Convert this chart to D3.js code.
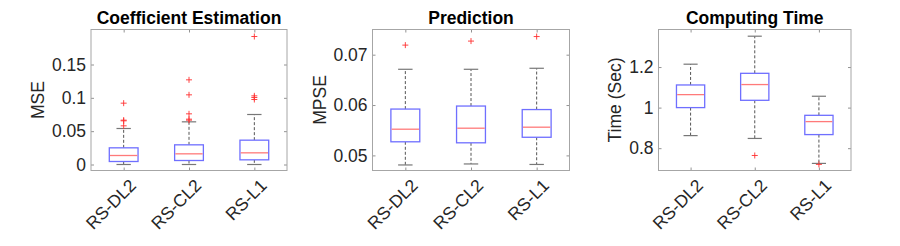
<!DOCTYPE html>
<html>
<head>
<meta charset="utf-8">
<script src="https://cdn.jsdelivr.net/npm/d3@7"></script>
<style>
  body { margin: 0; background: #fff; }
  svg { display: block; font-family: "Liberation Sans", Arial, Helvetica, sans-serif; }
</style>
</head>
<body>
<script>
const width = 900;
const height = 246;

// methods compared
const methods = ["RS-DL2", "RS-CL2", "RS-L1"];

// panel titles and y labels
const titles = ["Coefficient Estimation", "Prediction", "Computing Time"];
const yLabels = ["MSE", "MPSE", "Time (Sec)"];

// box stats per panel, one entry per method
const mseQ1 = [0.0045, 0.006, 0.007];
const mseMed = [0.0135, 0.016, 0.0175];
const mseQ3 = [0.025, 0.0295, 0.0365];
const mseLo = [0, 0, 0];
const mseHi = [0.054, 0.064, 0.075];
const mseOut = [[0.092, 0.0665, 0.0655, 0.058], [0.127, 0.1045, 0.076, 0.068, 0.0665], [0.192, 0.103, 0.1005, 0.0975]];

const mpseQ1 = [0.0527, 0.0525, 0.0536];
const mpseMed = [0.0552, 0.0554, 0.0556];
const mpseQ3 = [0.0592, 0.0598, 0.0591];
const mpseLo = [0.0481, 0.0483, 0.0482];
const mpseHi = [0.0671, 0.0671, 0.0673];
const mpseOut = [[0.0719], [0.0727], [0.0736]];

const timeQ1 = [1.0, 1.036, 0.867];
const timeMed = [1.064, 1.1136, 0.931];
const timeQ3 = [1.1116, 1.169, 0.962];
const timeLo = [0.862, 0.848, 0.725];
const timeHi = [1.214, 1.352, 1.056];
const timeOut = [[], [0.764], [0.720]];

// tick values and y limits
const mseTicks = [0, 0.05, 0.1, 0.15];
const mpseTicks = [0.05, 0.06, 0.07];
const timeTicks = [0.8, 1, 1.2];
const mseLim = [-0.009, 0.2025];
const mpseLim = [0.047, 0.075];
const timeLim = [0.690, 1.385];

function stats(q1, med, q3, lo, hi, out) {
    return methods.map((m, i) => ({method: m, q1: q1[i], med: med[i], q3: q3[i], lo: lo[i], hi: hi[i], out: out[i]}));
}

const panels = [
    {title: titles[0], ylab: yLabels[0], data: stats(mseQ1, mseMed, mseQ3, mseLo, mseHi, mseOut), ticks: mseTicks, lim: mseLim, fmt: d => d === 0 ? "0" : String(d), x0: 91, x1: 287, ylx: 38},
    {title: titles[1], ylab: yLabels[1], data: stats(mpseQ1, mpseMed, mpseQ3, mpseLo, mpseHi, mpseOut), ticks: mpseTicks, lim: mpseLim, fmt: d => d.toFixed(2), x0: 372.5, x1: 569.5, ylx: 320},
    {title: titles[2], ylab: yLabels[2], data: stats(timeQ1, timeMed, timeQ3, timeLo, timeHi, timeOut), ticks: timeTicks, lim: timeLim, fmt: d => String(d), x0: 658.5, x1: 851, ylx: 615}
];

const axTop = 29.5, axBottom = 170.5;

const svg = d3.select("body").append("svg")
    .attr("width", width).attr("height", height);

panels.forEach(p => {
    const x = d3.scaleLinear().domain([0.5, 3.5]).range([p.x0, p.x1]);
    const y = d3.scaleLinear().domain(p.lim).range([axBottom, axTop]);
    const unit = x(2) - x(1);
    const bw = unit * 0.44;
    const cw = unit * 0.22;
    const cx = d => x(methods.indexOf(d.method) + 1);

    const g = svg.append("g");

    // ticks inside on all four sides
    const yl = d3.axisLeft(y).tickValues(p.ticks).tickSize(-3).tickFormat(p.fmt).tickPadding(5);
    const yr = d3.axisRight(y).tickValues(p.ticks).tickSize(-3).tickFormat("");
    const xb = d3.axisBottom(x).tickValues([1, 2, 3]).tickSize(-3).tickFormat(i => methods[i - 1]);
    const xt = d3.axisTop(x).tickValues([1, 2, 3]).tickSize(-3).tickFormat("");

    const ga = g.append("g").attr("transform", `translate(${p.x0},0)`).call(yl);
    g.append("g").attr("transform", `translate(${p.x1},0)`).call(yr);
    const gx = g.append("g").attr("transform", `translate(0,${axBottom})`).call(xb);
    g.append("g").attr("transform", `translate(0,${axTop})`).call(xt);

    g.selectAll(".domain").remove();
    g.selectAll(".tick line").attr("stroke", "#777").attr("stroke-width", 0.8);
    ga.selectAll("text").attr("font-size", 17.5).attr("fill", "#262626");
    gx.selectAll("text")
        .attr("font-size", 17.5).attr("fill", "#262626")
        .attr("text-anchor", "end")
        .attr("dy", 0).attr("y", 0)
        .attr("transform", "translate(13,16) rotate(-45)");

    // axes box
    g.append("rect")
        .attr("x", p.x0).attr("y", axTop)
        .attr("width", p.x1 - p.x0).attr("height", axBottom - axTop)
        .attr("fill", "none").attr("stroke", "#a6a6a6").attr("stroke-width", 1);

    const b = g.selectAll(".box").data(p.data).enter().append("g").classed("box", true);

    // whiskers
    b.append("line")
        .attr("x1", cx).attr("x2", cx)
        .attr("y1", d => y(d.q3)).attr("y2", d => y(d.hi))
        .attr("stroke", "#555").attr("stroke-dasharray", "3,2");
    b.append("line")
        .attr("x1", cx).attr("x2", cx)
        .attr("y1", d => y(d.q1)).attr("y2", d => y(d.lo))
        .attr("stroke", "#555").attr("stroke-dasharray", "3,2");
    // caps
    ["hi", "lo"].forEach(k => {
        b.append("line")
            .attr("x1", d => cx(d) - cw / 2)
            .attr("x2", d => cx(d) + cw / 2)
            .attr("y1", d => y(d[k])).attr("y2", d => y(d[k]))
            .attr("stroke", "#777").attr("stroke-width", 1.2);
    });

    // box
    b.append("rect")
        .attr("x", d => cx(d) - bw / 2)
        .attr("width", bw)
        .attr("y", d => y(d.q3))
        .attr("height", d => y(d.q1) - y(d.q3))
        .attr("fill", "#fff").attr("stroke", "#6f6fff").attr("stroke-width", 1.3);

    // median
    b.append("line")
        .attr("x1", d => cx(d) - bw / 2 + 0.7)
        .attr("x2", d => cx(d) + bw / 2 - 0.7)
        .attr("y1", d => y(d.med)).attr("y2", d => y(d.med))
        .attr("stroke", "#ff7a7a").attr("stroke-width", 1.3);

    // outliers as '+'
    b.each(function(d) {
        const c = cx(d);
        d3.select(this).selectAll(".out").data(d.out).enter().append("path")
            .classed("out", true)
            .attr("d", v => `M${c - 3},${y(v)}H${c + 3}M${c},${y(v) - 3}V${y(v) + 3}`)
            .attr("stroke", "#ff3030").attr("stroke-width", 0.9).attr("fill", "none");
    });

    // title
    g.append("text")
        .attr("x", (p.x0 + p.x1) / 2).attr("y", 24)
        .attr("text-anchor", "middle")
        .attr("font-size", 17.5).attr("font-weight", "bold").attr("fill", "#000")
        .text(p.title);

    // y label
    g.append("text")
        .attr("transform", `translate(${p.ylx},${(axTop + axBottom) / 2}) rotate(-90)`)
        .attr("text-anchor", "middle").attr("dy", "0.35em")
        .attr("font-size", 17.5).attr("fill", "#262626")
        .text(p.ylab);
});
</script>
</body>
</html>
